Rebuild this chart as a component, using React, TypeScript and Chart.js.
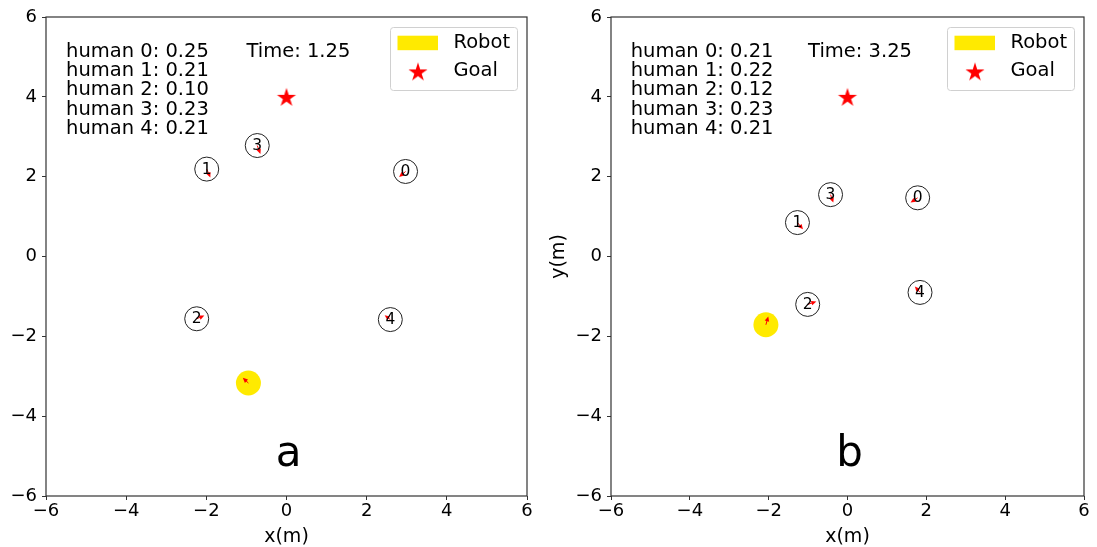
import { useEffect, useRef } from "react";
import { Chart, registerables } from "chart.js";

Chart.register(...registerables);

const FONT = '"DejaVu Sans", sans-serif';

// Shared axis ticks and human indices
const tickValues = [-6, -4, -2, 0, 2, 4, 6];
const humanIds = [0, 1, 2, 3, 4];
const goalX = [0];
const goalY = [4];

// Panel a
const humanXA = [2.97, -1.99, -2.24, -0.73, 2.59];
const humanYA = [2.13, 2.19, -1.56, 2.78, -1.58];
const humanVxA = [-0.16, 0.09, 0.19, 0.08, -0.14];
const humanVyA = [-0.14, -0.21, 0.08, -0.21, 0.11];
const attentionA = [0.25, 0.21, 0.1, 0.23, 0.21];
const robotXA = [-0.95];
const robotYA = [-3.17];
const robotVxA = [-0.14];
const robotVyA = [0.13];
const timeA = 1.25;

// Panel b
const humanXB = [1.78, -1.27, -1.01, -0.43, 1.84];
const humanYB = [1.47, 0.85, -1.2, 1.55, -0.9];
const humanVxB = [-0.18, 0.14, 0.22, 0.07, -0.13];
const humanVyB = [-0.12, -0.17, 0.07, -0.2, 0.15];
const attentionB = [0.21, 0.22, 0.12, 0.23, 0.21];
const robotXB = [-2.07];
const robotYB = [-1.71];
const robotVxB = [0.06];
const robotVyB = [0.21];
const timeB = 3.25;

const ROBOT_COLOR = "#ffea00";

function makeStar(outer: number, color: string) {
  const size = Math.ceil(outer * 2 + 2);
  const c = document.createElement("canvas");
  c.width = size;
  c.height = size;
  const g = c.getContext("2d")!;
  const cx = size / 2;
  const cy = size / 2 + outer * 0.1;
  const inner = outer * 0.382;
  g.beginPath();
  for (let i = 0; i < 10; i++) {
    const r = i % 2 === 0 ? outer : inner;
    const a = -Math.PI / 2 + (i * Math.PI) / 5;
    const px = cx + r * Math.cos(a);
    const py = cy + r * Math.sin(a);
    if (i === 0) g.moveTo(px, py);
    else g.lineTo(px, py);
  }
  g.closePath();
  g.fillStyle = color;
  g.fill();
  return c;
}

const fmtTick = (v: number) => (v < 0 ? "\u2212" + Math.abs(v) : String(v));

type Scene = {
  hx: number[];
  hy: number[];
  hvx: number[];
  hvy: number[];
  att: number[];
  rx: number[];
  ry: number[];
  rvx: number[];
  rvy: number[];
  time: number;
  letter: string;
  yTitle: boolean;
  yWidth: number;
  padRight: number;
};

function overlay(scene: Scene, star: HTMLCanvasElement) {
  return {
    id: "crowdOverlay",
    afterDatasetsDraw(chart: any) {
      const { ctx, chartArea, scales } = chart;
      const xs = scales.x;
      const ys = scales.y;
      ctx.save();

      const arrow = (px: number, py: number, vx: number, vy: number) => {
        const x0 = xs.getPixelForValue(px);
        const y0 = ys.getPixelForValue(py);
        const x1 = xs.getPixelForValue(px + vx);
        const y1 = ys.getPixelForValue(py + vy);
        const a = Math.atan2(y1 - y0, x1 - x0);
        const head = 5;
        const half = 2.3;
        const ca = Math.cos(a);
        const sa = Math.sin(a);
        ctx.strokeStyle = "#ff0000";
        ctx.fillStyle = "#ff0000";
        ctx.lineWidth = 1;
        ctx.beginPath();
        ctx.moveTo(x0, y0);
        ctx.lineTo(x1 - head * 0.5 * ca, y1 - head * 0.5 * sa);
        ctx.stroke();
        ctx.beginPath();
        ctx.moveTo(x1, y1);
        ctx.lineTo(x1 - head * ca + half * sa, y1 - head * sa - half * ca);
        ctx.lineTo(x1 - head * ca - half * sa, y1 - head * sa + half * ca);
        ctx.closePath();
        ctx.fill();
      };

      scene.rx.forEach((v, i) => arrow(v, scene.ry[i], scene.rvx[i], scene.rvy[i]));
      humanIds.forEach((id) =>
        arrow(scene.hx[id], scene.hy[id], scene.hvx[id], scene.hvy[id])
      );

      // human indices inside circles
      ctx.fillStyle = "#000";
      ctx.font = `15.5px ${FONT}`;
      ctx.textAlign = "center";
      ctx.textBaseline = "middle";
      humanIds.forEach((id) => {
        ctx.fillText(
          String(id),
          xs.getPixelForValue(scene.hx[id]),
          ys.getPixelForValue(scene.hy[id]) + 0.5
        );
      });

      // attention list and time
      ctx.font = `19.5px ${FONT}`;
      ctx.textAlign = "left";
      ctx.textBaseline = "alphabetic";
      const tx = xs.getPixelForValue(-5.5);
      const ty = ys.getPixelForValue(5.0);
      humanIds.forEach((id, i) => {
        ctx.fillText(`human ${id}: ${scene.att[id].toFixed(2)}`, tx, ty + i * 19.2);
      });
      ctx.fillText(`Time: ${scene.time.toFixed(2)}`, xs.getPixelForValue(-1.0), ty);

      // panel letter
      ctx.font = `42px ${FONT}`;
      ctx.textAlign = "center";
      ctx.fillText(scene.letter, xs.getPixelForValue(0.05), ys.getPixelForValue(-5.25));

      // frame
      ctx.strokeStyle = "#333";
      ctx.lineWidth = 1.2;
      ctx.strokeRect(
        chartArea.left,
        chartArea.top,
        chartArea.right - chartArea.left,
        chartArea.bottom - chartArea.top
      );

      // legend
      const bw = 127;
      const bh = 63;
      const bx = chartArea.right - 10 - bw;
      const by = chartArea.top + 10;
      ctx.beginPath();
      ctx.roundRect(bx + 0.5, by + 0.5, bw, bh, 3);
      ctx.fillStyle = "rgba(255,255,255,0.8)";
      ctx.fill();
      ctx.strokeStyle = "#d0d0d0";
      ctx.lineWidth = 1;
      ctx.stroke();
      const labels = chart.data.datasets.filter((d: any) => d.inLegend);
      labels.forEach((d: any, i: number) => {
        const cy = by + 16 + i * 28.4;
        if (d.legendKind === "patch") {
          ctx.fillStyle = ROBOT_COLOR;
          ctx.fillRect(bx + 7.5, cy - 7.3, 40.5, 14.5);
        } else {
          ctx.drawImage(star, bx + 28 - star.width / 2, cy - star.height / 2);
        }
        ctx.fillStyle = "#000";
        ctx.font = `19.5px ${FONT}`;
        ctx.textAlign = "left";
        ctx.textBaseline = "middle";
        ctx.fillText(d.label, bx + 63.5, cy);
      });

      ctx.restore();
    },
  };
}

function Panel({ scene, left, width }: { scene: Scene; left: number; width: number }) {
  const ref = useRef<HTMLCanvasElement>(null);
  useEffect(() => {
    const star = makeStar(10, "#ff0000");
    const humans = humanIds.map((id) => ({ x: scene.hx[id], y: scene.hy[id] }));
    const robot = scene.rx.map((v, i) => ({ x: v, y: scene.ry[i] }));
    const goal = goalX.map((v, i) => ({ x: v, y: goalY[i] }));
    const chart = new Chart(ref.current!, {
      type: "scatter",
      data: {
        datasets: [
          {
            label: "Robot",
            data: robot,
            pointRadius: 12.5,
            pointBackgroundColor: ROBOT_COLOR,
            pointBorderWidth: 0,
            pointBorderColor: ROBOT_COLOR,
            inLegend: true,
            legendKind: "patch",
          } as any,
          {
            label: "Humans",
            data: humans,
            pointRadius: 12,
            pointBackgroundColor: "rgba(0,0,0,0)",
            pointBorderColor: "#222",
            pointBorderWidth: 1,
          },
          {
            label: "Goal",
            data: goal,
            pointStyle: star,
            inLegend: true,
            legendKind: "star",
          } as any,
        ],
      },
      options: {
        animation: false,
        responsive: false,
        events: [],
        layout: { padding: { left: 0, top: 17, right: scene.padRight, bottom: 0 } },
        plugins: { legend: { display: false }, tooltip: { enabled: false } },
        scales: {
          x: {
            type: "linear",
            min: -6,
            max: 6,
            afterBuildTicks: (s: any) => {
              s.ticks = tickValues.map((v) => ({ value: v }));
            },
            afterFit: (s: any) => {
              s.height = 51;
              s.paddingLeft = 0;
              s.paddingRight = 0;
            },
            ticks: {
              callback: (v: any) => fmtTick(Number(v)),
              font: { family: FONT, size: 18 },
              color: "#000",
              padding: 1,
              maxRotation: 0,
            },
            grid: {
              drawOnChartArea: false,
              drawTicks: true,
              tickLength: 4,
              tickColor: "#333",
              tickWidth: 1,
            },
            border: { display: false },
            title: {
              display: true,
              text: "x(m)",
              font: { family: FONT, size: 19, lineHeight: 1 },
              color: "#000",
              padding: { top: 0, bottom: 0 },
            },
          },
          y: {
            type: "linear",
            min: -6,
            max: 6,
            afterBuildTicks: (s: any) => {
              s.ticks = tickValues.map((v) => ({ value: v }));
            },
            afterFit: (s: any) => {
              s.width = scene.yWidth;
              s.paddingTop = 0;
              s.paddingBottom = 0;
            },
            ticks: {
              callback: (v: any) => fmtTick(Number(v)),
              font: { family: FONT, size: 18 },
              color: "#000",
              padding: 5,
            },
            grid: {
              drawOnChartArea: false,
              drawTicks: true,
              tickLength: 4,
              tickColor: "#333",
              tickWidth: 1,
            },
            border: { display: false },
            title: {
              display: scene.yTitle,
              text: "y(m)",
              font: { family: FONT, size: 19, lineHeight: 1 },
              color: "#000",
              padding: { top: 9.5, bottom: 0 },
            },
          },
        },
      },
      plugins: [overlay(scene, star)],
    } as any);
    return () => chart.destroy();
  }, [scene]);
  return (
    <canvas
      ref={ref}
      width={width}
      height={547}
      style={{ position: "absolute", left, top: 0, width, height: 547 }}
    />
  );
}

const sceneA: Scene = {
  hx: humanXA,
  hy: humanYA,
  hvx: humanVxA,
  hvy: humanVyA,
  att: attentionA,
  rx: robotXA,
  ry: robotYA,
  rvx: robotVxA,
  rvy: robotVyA,
  time: timeA,
  letter: "a",
  yTitle: false,
  yWidth: 46,
  padRight: 13,
};

const sceneB: Scene = {
  hx: humanXB,
  hy: humanYB,
  hvx: humanVxB,
  hvy: humanVyB,
  att: attentionB,
  rx: robotXB,
  ry: robotYB,
  rvx: robotVxB,
  rvy: robotVyB,
  time: timeB,
  letter: "b",
  yTitle: true,
  yWidth: 71,
  padRight: 6,
};

export default function App() {
  return (
    <div
      style={{
        position: "absolute",
        left: 0,
        top: 0,
        width: 1097,
        height: 547,
        background: "#fff",
        overflow: "hidden",
      }}
    >
      <Panel scene={sceneA} left={0} width={540} />
      <Panel scene={sceneB} left={540} width={557} />
    </div>
  );
}
